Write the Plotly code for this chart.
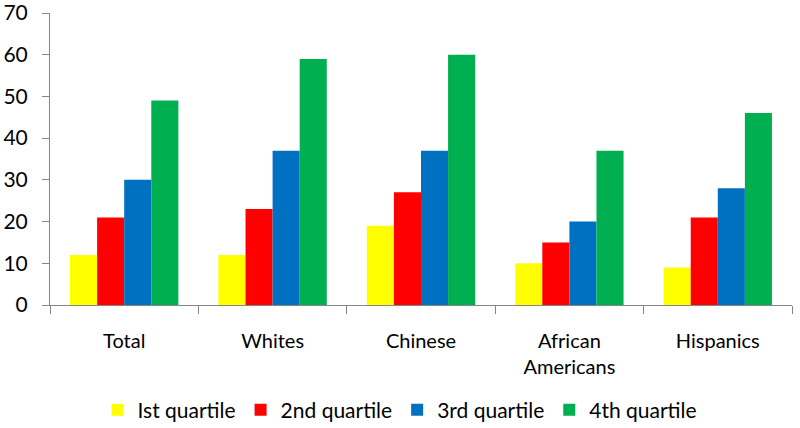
import plotly.graph_objects as go

categories = ["Total", "Whites", "Chinese", "African<br>Americans", "Hispanics"]
series_names = ["Ist quartile", "2nd quartile", "3rd quartile", "4th quartile"]
q1 = [12, 12, 19, 10, 9]
q2 = [21, 23, 27, 15, 21]
q3 = [30, 37, 37, 20, 28]
q4 = [49, 59, 60, 37, 46]
colors = ["#FFFF00", "#FF0000", "#0070C0", "#00B050"]
y_ticks = [0, 10, 20, 30, 40, 50, 60, 70]

fig = go.Figure()
for name, vals, c in zip(series_names, [q1, q2, q3, q4], colors):
    fig.add_trace(go.Bar(x=categories, y=vals, name=name, marker=dict(color=c, line=dict(width=0))))

font_family = "Lato, Carlito, 'Open Sans', sans-serif"
fig.update_layout(
    width=800, height=428,
    margin=dict(l=50, r=8, t=13, b=123),
    barmode="group",
    bargap=0.27,
    bargroupgap=0,
    plot_bgcolor="white",
    paper_bgcolor="white",
    font=dict(family=font_family, size=20, color="black"),
    showlegend=True,
    legend=dict(orientation="h", x=0.5, xanchor="center", xref="container",
                y=1 - 410 / 428, yanchor="middle", yref="container",
                font=dict(size=21), itemwidth=30, traceorder="normal"),
    xaxis=dict(showline=True, linecolor="#868686", linewidth=1, ticks="outside",
               tickson="boundaries", ticklen=8, tickcolor="#868686",
               showgrid=False, tickfont=dict(size=20), automargin=False,
               ticklabelstandoff=18),
    yaxis=dict(range=[0, 70], tickvals=y_ticks, showline=True, linecolor="#868686",
               linewidth=1, ticks="outside", ticklen=7, tickcolor="#868686",
               showgrid=False, zeroline=False, tickfont=dict(size=21),
               automargin=False, ticklabelstandoff=10, ticklabeloverflow="allow"),
)
fig.write_html("out.html", config={"displayModeBar": False},
               post_script="document.body.style.margin='0px';document.body.style.overflow='hidden';")
